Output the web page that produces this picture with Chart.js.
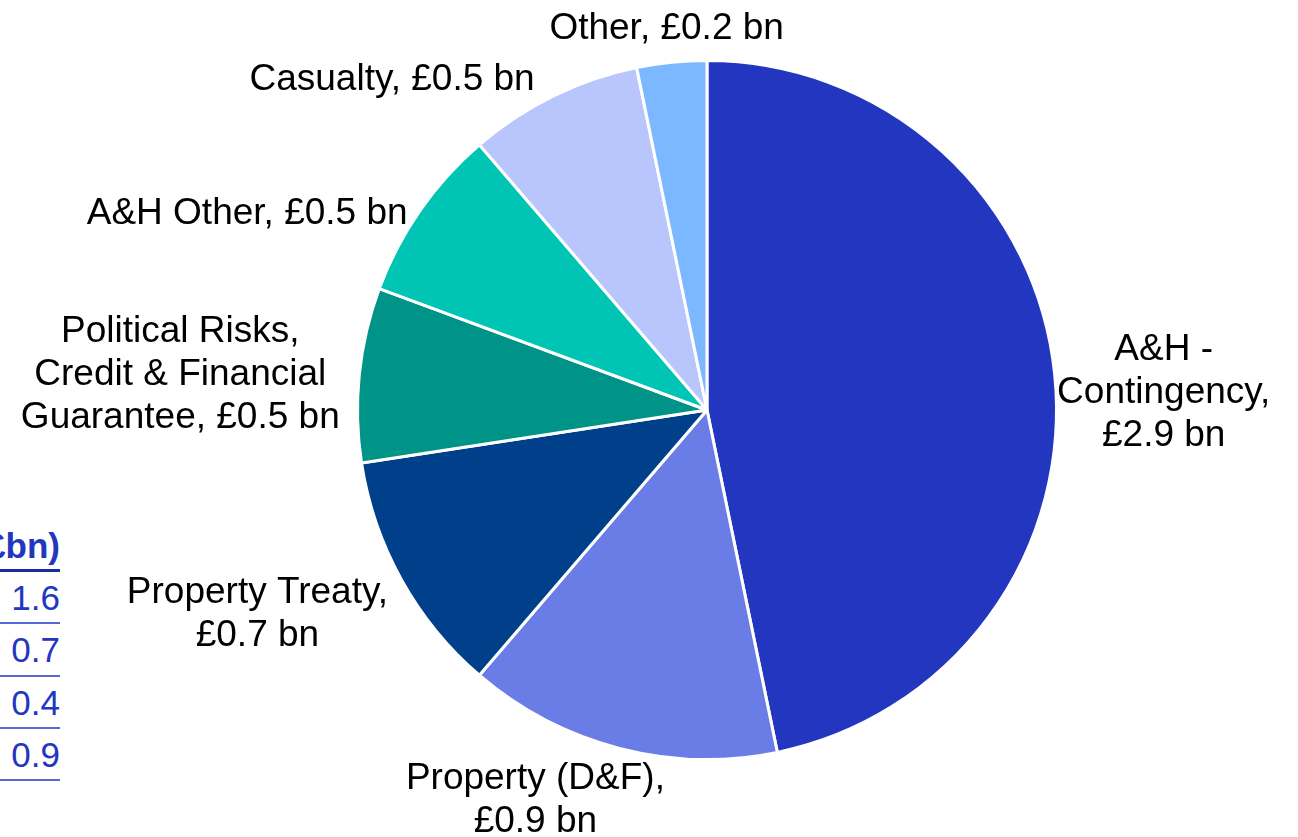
<!DOCTYPE html>
<html>
<head>
<meta charset="utf-8">
<script src="https://cdn.jsdelivr.net/npm/chart.js@4.4.1/dist/chart.umd.min.js"></script>
<style>
  body { margin: 0; background: #fff; overflow: hidden; }
  #wrap { position: relative; width: 1298px; height: 837px; }
  #pie { position: absolute; left: 0; top: 0; }
  #side { position: absolute; left: -60px; top: 519px; width: 120px;
          font-family: "Liberation Sans", Arial, sans-serif; color: #2236c0; text-align: right; }
  #side .hd { height: 50px; line-height: 54px; font-size: 35px; font-weight: bold; border-bottom: 3px solid #1a2b9c; }
  #side .row { height: 50.3px; line-height: 51px; font-size: 35px; border-bottom: 2px solid #5468d6; }
</style>
</head>
<body>
<div id="wrap">
  <div id="side"></div>
  <canvas id="pie" width="1298" height="837"></canvas>
</div>
<script>
const categories = [
  "A&H - Contingency",
  "Property (D&F)",
  "Property Treaty",
  "Political Risks, Credit & Financial Guarantee",
  "A&H Other",
  "Casualty",
  "Other"
];
const premiums = [2.9, 0.9, 0.7, 0.5, 0.5, 0.5, 0.2];
const sliceColors = ["#2236c0", "#6a7de6", "#003f8a", "#009488", "#00c4b4", "#b9c5fd", "#7bb8ff"];

const sideHeader = "(£bn)";
const sideValues = [1.6, 0.7, 0.4, 0.9];

// label block placement, relative to the outer edge of each slice
const labelWrap = [230, 300, 300, 325, 420, 420, 420];
const labelShift = [[109, 18], [-84, 52], [-144, 35], [-179, 0], [-173, 3], [-161, -16], [-5, -33]];

const side = document.getElementById("side");
side.innerHTML = `<div class="hd">${sideHeader}</div>` +
  sideValues.map(v => `<div class="row">${v.toFixed(1)}</div>`).join("");

const FONT = '37px "Liberation Sans", Arial, sans-serif';
const LINE_H = 43;

const wrapText = (ctx, text, maxW) => {
  const words = text.split(" ");
  const lines = [];
  let cur = "";
  for (const w of words) {
    const test = cur ? cur + " " + w : w;
    if (cur && ctx.measureText(test).width > maxW) {
      lines.push(cur);
      cur = w;
    } else {
      cur = test;
    }
  }
  if (cur) lines.push(cur);
  return lines;
};

const sliceLabels = {
  id: "sliceLabels",
  afterDraw(chart) {
    const ctx = chart.ctx;
    const meta = chart.getDatasetMeta(0);
    ctx.save();
    ctx.font = FONT;
    ctx.fillStyle = "#000";
    ctx.textAlign = "center";
    ctx.textBaseline = "middle";
    meta.data.forEach((arc, i) => {
      const mid = (arc.startAngle + arc.endAngle) / 2;
      const ex = arc.x + Math.cos(mid) * arc.outerRadius;
      const ey = arc.y + Math.sin(mid) * arc.outerRadius;
      const text = `${categories[i]}, £${premiums[i].toFixed(1)} bn`;
      const lines = wrapText(ctx, text, labelWrap[i]);
      const cx = ex + labelShift[i][0];
      const cy = ey + labelShift[i][1];
      const top = cy - (lines.length - 1) * LINE_H / 2;
      lines.forEach((ln, k) => ctx.fillText(ln, cx, top + k * LINE_H));
    });
    ctx.restore();
  }
};

const myChart = new Chart(document.getElementById("pie"), {
  type: "pie",
  data: {
    labels: categories,
    datasets: [{
      data: premiums,
      backgroundColor: sliceColors,
      borderColor: "#ffffff",
      borderWidth: 3
    }]
  },
  options: {
    responsive: false,
    animation: false,
    devicePixelRatio: 1,
    layout: { padding: { left: 356, right: 240, top: 59, bottom: 76 } },
    plugins: {
      legend: { display: false },
      tooltip: { enabled: false }
    }
  },
  plugins: [sliceLabels]
});
</script>
</body>
</html>
